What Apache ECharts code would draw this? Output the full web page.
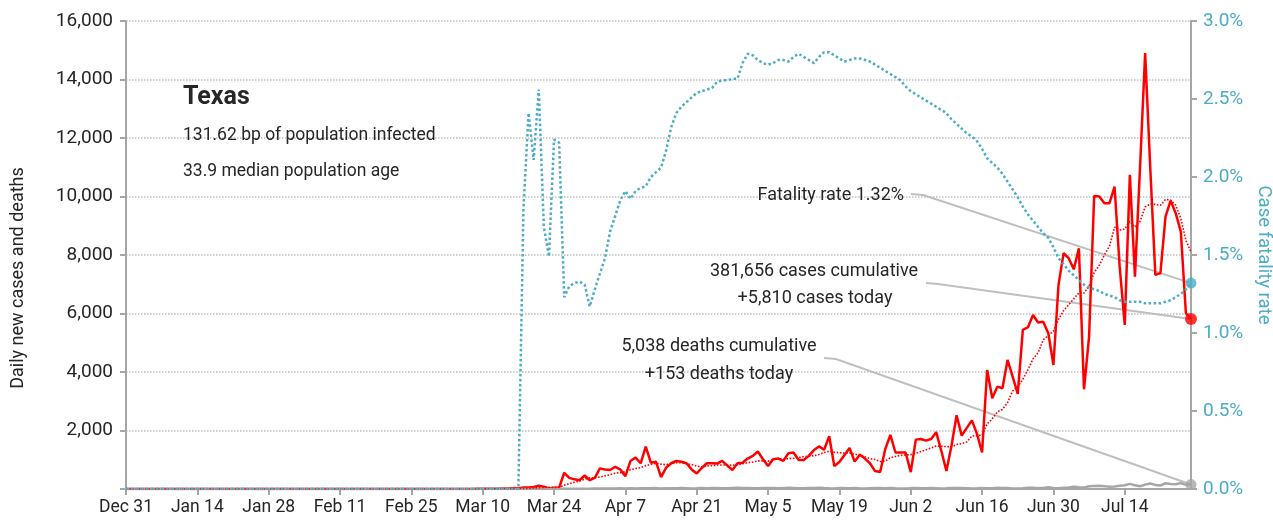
<!DOCTYPE html>
<html>
<head>
<meta charset="utf-8">
<script src="https://cdn.jsdelivr.net/npm/echarts@6/dist/echarts.min.js"></script>
<style>
  html, body { margin: 0; padding: 0; background: #fff; }
  #chart { width: 1273px; height: 527px; }
</style>
</head>
<body>
<div id="chart"></div>
<script>
// 图表数据：德州每日新增病例、死亡与病死率（Dec 31 - Jul 27）
function zeros(n) { return new Array(n).fill(0); }

let startDay = new Date(2019, 11, 31);
let dayCount = 210;
let monthNames = ['Jan', 'Feb', 'Mar', 'Apr', 'May', 'Jun', 'Jul', 'Aug', 'Sep', 'Oct', 'Nov', 'Dec'];
let categories = [];
for (let i = 0; i < dayCount; i++) {
    let d = new Date(startDay.getFullYear(), startDay.getMonth(), startDay.getDate() + i);
    categories.push(monthNames[d.getMonth()] + ' ' + d.getDate());
}

let dailyCases = zeros(64).concat([
    1, 0, 2, 3, 1, 5, 8, 6, 10, 12, 20, 15, 30,
    25, 50, 55, 70, 110, 80, 20, 40, 45,
    555, 380, 330, 300, 460, 300, 380, 705, 670, 650, 760, 670, 440, 960, 1075, 880, 1445, 900, 935, 405,
    730, 880, 960, 930, 880, 670, 530, 720, 880, 880, 870, 960, 800, 650, 880, 900, 1040,
    1133, 1283, 1017, 786, 1017, 1040, 960, 1225, 1248, 994, 994, 1133, 1330, 1456, 1341, 1803, 786, 925,
    1160, 1400, 936, 1168, 1040, 880, 613, 578, 1364, 1850, 1248, 1248, 1248, 578, 1688, 1711, 1653, 1711,
    1942, 1306, 613, 1480, 2520, 1826, 2090, 2347, 1884, 1248, 4070,
    3100, 3500, 3443, 4412, 3842, 3250, 5438, 5530, 5950, 5690, 5720, 5324, 4240, 6977, 8060, 7890, 7510,
    8230, 3410, 5210, 10020, 10000, 9770, 9770, 10340, 7600, 5610, 10740, 7260, 11000, 14900, 11000, 7320,
    7380, 9310, 9860, 9430, 8800, 6010, 5810
]);

let avgCases = zeros(64).concat([
    0, 0, 1, 1, 1, 2, 3, 4, 5, 7, 9, 11, 14, 17, 20, 25,
    35, 45, 55, 60, 55,
    60, 130, 180, 230, 270, 330, 380, 390, 410, 450,
    490, 540, 560, 590, 660, 700, 730, 800, 840, 880,
    850, 830, 860, 900, 900, 860, 840, 780, 760, 790,
    800, 820, 820, 820, 810, 830, 860, 900, 920, 960,
    960, 950, 1000, 1040, 1010, 1040, 1050, 1070, 1110, 1120,
    1140, 1180, 1250, 1290, 1260, 1240, 1230, 1240, 1180, 1180,
    1100, 1040, 1010, 940, 950, 1070, 1110, 1150, 1160, 1180,
    1220, 1280, 1340, 1400, 1470, 1460, 1450, 1440, 1520, 1550,
    1610, 1810, 1820, 1850, 2230, 2400, 2640, 2720, 2950, 3350,
    3500, 3750, 4080, 4450, 4660, 5100, 5250, 5400, 5800, 6100,
    6300, 6500, 6710, 6700, 6950, 7400, 7650, 8000, 8300, 8950,
    8850, 8890, 9150, 8950, 9150, 9640, 9740, 9730, 9700, 9900,
    9880, 9700, 9250, 8500, 8100
]);

let dailyDeaths = zeros(80).concat([
    1, 2, 2, 3, 5, 4, 6, 7, 8, 10,
    12, 9, 15, 14, 18, 20, 17, 22, 15, 25,
    20, 24, 28, 25, 30, 18, 22, 26, 28, 30,
    25, 20, 22, 30, 28, 33, 35, 26, 24, 32,
    40, 35, 30, 22, 28, 33, 36, 34, 25, 30,
    42, 38, 28, 24, 30, 36, 40, 32, 26, 21,
    35, 30, 28, 30, 22, 20, 25, 30, 32, 28,
    34, 26, 20, 18, 30, 34, 28, 25, 32, 25,
    18, 22, 30, 35, 33, 28, 20, 24, 30, 25,
    28, 40, 37, 32, 20, 18, 25, 44, 45, 30,
    33, 57, 35, 25, 45, 50, 80, 60, 48, 95,
    105, 110, 98, 75, 87, 110, 129, 174, 130, 95,
    150, 190, 140, 120, 197, 173, 160, 200, 140, 153
]);

// 病死率，单位 %
let fatalityRate = zeros(77).concat([
    0, 1.8, 2.41, 2.11, 2.56, 1.68, 1.49, 2.24, 2.22, 1.23,
    1.30, 1.32, 1.33, 1.31, 1.17, 1.28, 1.38, 1.48, 1.65, 1.75,
    1.85, 1.91, 1.86, 1.91, 1.93, 1.94, 2.00, 2.03, 2.06, 2.17,
    2.32, 2.41, 2.45, 2.48, 2.51, 2.54, 2.55, 2.56, 2.57, 2.61,
    2.62, 2.62, 2.63, 2.63, 2.73, 2.79, 2.78, 2.75, 2.73, 2.72,
    2.73, 2.75, 2.75, 2.74, 2.77, 2.79, 2.77, 2.75, 2.73, 2.77,
    2.80, 2.80, 2.78, 2.76, 2.74, 2.75, 2.76, 2.76, 2.75, 2.74,
    2.72, 2.70, 2.68, 2.66, 2.64, 2.62, 2.58, 2.55, 2.53, 2.51,
    2.49, 2.47, 2.45, 2.43, 2.41, 2.37, 2.34, 2.31, 2.28, 2.26,
    2.23, 2.18, 2.12, 2.09, 2.06, 2.02, 1.97, 1.92, 1.87, 1.81,
    1.76, 1.72, 1.68, 1.64, 1.61, 1.55, 1.48, 1.44, 1.40, 1.37,
    1.34, 1.31, 1.29, 1.28, 1.27, 1.25, 1.24, 1.23, 1.21, 1.20,
    1.20, 1.20, 1.20, 1.19, 1.19, 1.19, 1.19, 1.20, 1.21, 1.23,
    1.25, 1.28, 1.32
]);

let yLeftTicks = {min: 0, max: 16000, interval: 2000};
let yRightTicks = {min: 0, max: 3, interval: 0.5};

let titleText = 'Texas';
let infoLines = ['131.62 bp of population infected', '33.9 median population age'];
let leftAxisName = 'Daily new cases and deaths';
let rightAxisName = 'Case fatality rate';
let rateNote = 'Fatality rate 1.32%';
let caseNotes = ['381,656 cases cumulative', '+5,810 cases today'];
let deathNotes = ['5,038 deaths cumulative', '+153 deaths today'];

let FONT = "Roboto, 'Liberation Sans', sans-serif";
let RED = '#ff0000';
let TEAL = '#4bacc6';
let GREY = '#a6a6a6';
let TEXT = '#262626';

let last = dayCount - 1;

let myChart = echarts.init(document.getElementById('chart'));

let option = {
    animation: false,
    grid: {left: 126, right: 82, top: 21, bottom: 38, containLabel: false, outerBoundsMode: 'none'},
    xAxis: [{
        type: 'category',
        boundaryGap: false,
        data: categories,
        axisLine: {lineStyle: {color: GREY, width: 2}},
        axisTick: {show: true, interval: 13, length: 6, lineStyle: {color: GREY, width: 2}},
        axisLabel: {interval: 13, margin: 10, color: TEXT, fontFamily: FONT, fontSize: 17.5},
        splitLine: {show: false}
    }],
    yAxis: [
        {
            type: 'value',
            min: yLeftTicks.min,
            max: yLeftTicks.max,
            interval: yLeftTicks.interval,
            axisLine: {show: true, lineStyle: {color: GREY, width: 2}},
            axisTick: {show: true, length: 6, lineStyle: {color: GREY, width: 2}},
            axisLabel: {
                color: TEXT, fontFamily: FONT, fontSize: 19, margin: 13,
                formatter: function (v) { return v === 0 ? '' : v.toLocaleString('en-US'); }
            },
            splitLine: {show: true, lineStyle: {color: '#bfbfbf', type: 'dotted', width: 1.5}}
        },
        {
            type: 'value',
            position: 'right',
            min: yRightTicks.min,
            max: yRightTicks.max,
            interval: yRightTicks.interval,
            name: rightAxisName,
            nameLocation: 'middle',
            nameRotate: -90,
            nameGap: 59,
            nameTextStyle: {color: TEAL, fontFamily: FONT, fontSize: 18.5},
            axisLine: {show: true, lineStyle: {color: GREY, width: 2}},
            axisTick: {show: true, length: 6, lineStyle: {color: GREY, width: 2}},
            axisLabel: {
                color: TEAL, fontFamily: FONT, fontSize: 19, margin: 12,
                formatter: function (v) { return v.toFixed(1) + '%'; }
            },
            splitLine: {show: false}
        }
    ],
    series: [
        {
            name: 'Daily cases',
            type: 'line',
            data: dailyCases,
            symbol: 'none',
            lineStyle: {color: RED, width: 2.5},
            z: 2
        },
        {
            name: 'Daily deaths',
            type: 'line',
            data: dailyDeaths,
            symbol: 'none',
            lineStyle: {color: GREY, width: 2.5},
            z: 3
        },
        {
            name: '7-day average',
            type: 'line',
            data: avgCases,
            symbol: 'none',
            lineStyle: {color: RED, width: 1.6, type: 'dotted'},
            z: 4
        },
        {
            name: 'Case fatality rate',
            type: 'line',
            yAxisIndex: 1,
            data: fatalityRate,
            symbol: 'none',
            lineStyle: {color: TEAL, width: 2.5, type: 'dotted'},
            z: 5
        },
        {
            type: 'scatter',
            data: [[last, dailyCases[last]]],
            symbolSize: 12,
            itemStyle: {color: RED},
            z: 6
        },
        {
            type: 'scatter',
            data: [[last, dailyDeaths[last]]],
            symbolSize: 11,
            itemStyle: {color: GREY},
            z: 6
        },
        {
            type: 'scatter',
            yAxisIndex: 1,
            data: [[last, fatalityRate[last]]],
            symbolSize: 11,
            itemStyle: {color: TEAL},
            z: 6
        }
    ]
};

myChart.setOption(option);

// 注释文字与引线
let caseDot = myChart.convertToPixel({xAxisIndex: 0, yAxisIndex: 0}, [last, dailyCases[last]]);
let deathDot = myChart.convertToPixel({xAxisIndex: 0, yAxisIndex: 0}, [last, dailyDeaths[last]]);
let rateDot = myChart.convertToPixel({xAxisIndex: 0, yAxisIndex: 1}, [last, fatalityRate[last]]);

function label(text, x, y, align, size, weight) {
    return {
        type: 'text',
        z: 10,
        style: {
            text: text, x: x, y: y,
            textAlign: align, textVerticalAlign: 'middle',
            fontFamily: FONT, fontSize: size, fontWeight: weight || 'normal',
            fill: TEXT
        }
    };
}

function leader(points) {
    return {
        type: 'polyline',
        z: 1,
        shape: {points: points},
        style: {stroke: '#bfbfbf', lineWidth: 2, fill: null}
    };
}

myChart.setOption({
    graphic: [
        {
            type: 'text',
            x: 18,
            y: 278,
            rotation: Math.PI / 2,
            style: {
                text: leftAxisName, textAlign: 'center', textVerticalAlign: 'middle',
                fontFamily: FONT, fontSize: 18, fill: TEXT
            }
        },
        label(titleText, 183, 98, 'left', 25, 'bold'),
        label(infoLines[0], 183, 136, 'left', 17.5),
        label(infoLines[1], 183, 172, 'left', 17.5),
        label(rateNote, 904, 195, 'right', 18),
        label(caseNotes[0], 814, 271, 'center', 18),
        label(caseNotes[1], 815, 298, 'center', 18),
        label(deathNotes[0], 719, 346, 'center', 18),
        label(deathNotes[1], 719, 374, 'center', 18),
        leader([[911, 194], [923, 195], rateDot]),
        leader([[926, 283], [938, 284], caseDot]),
        leader([[824, 358], [836, 359], deathDot])
    ]
});
</script>
</body>
</html>
